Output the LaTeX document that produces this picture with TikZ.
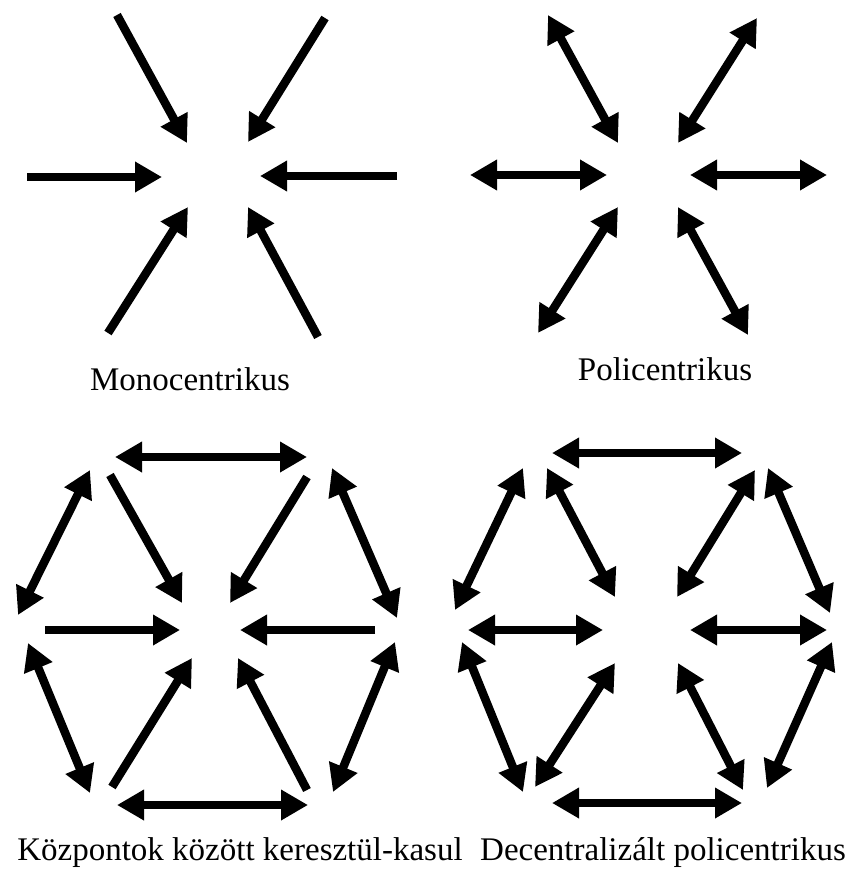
\documentclass[tikz,border=0pt]{standalone}
\usepackage{fontspec}
\setmainfont{Liberation Serif}
\usetikzlibrary{arrows.meta}
\tikzset{
  shaft/.style={line width=8.5pt, black},
  onehead/.style={shaft, -{Triangle[length=27pt,width=29pt]}},
  twohead/.style={shaft, {Triangle[length=27pt,width=29pt]}-{Triangle[length=27pt,width=29pt]}},
  caption/.style={anchor=base, inner sep=0pt, font=\fontsize{33}{40}\selectfont}
}
\begin{document}
\begin{tikzpicture}[x=1pt,y=-1pt]
\useasboundingbox[fill=white] (0,0) rectangle (857,869);
% Panel 1: Monocentrikus (single heads pointing inward)
\foreach \n/\ax/\ay/\bx/\by in {
  ma/117/15/187/143, mb/325/18/248/142, mc/27/177/162/177,
  md/397/176/260/176, me/108/333/188/207, mf/318/337/248/207}{
  \coordinate (\n-s) at (\ax,\ay);
  \coordinate (\n-t) at (\bx,\by);
  \draw[onehead] (\n-s) -- (\n-t);
}
% Panel 2: Policentrikus (double heads)
\foreach \n/\ax/\ay/\bx/\by in {
  pa/548/15/618/143, pb/757/18/678/143, pc/470/175/607/175,
  pd/690/175/827/175, pe/618/207/538/333, pf/678/207/748/335}{
  \coordinate (\n-s) at (\ax,\ay);
  \coordinate (\n-t) at (\bx,\by);
  \draw[twohead] (\n-s) -- (\n-t);
}
% Panel 3: Kozpontok kozott keresztul-kasul
\foreach \n/\ax/\ay/\bx/\by in {
  ka/115/457/307/457, kb/90/470/18/615, kc/332/468/397/618,
  kd/28/643/90/793, ke/395/642/333/792, kf/117/805/308/805}{
  \coordinate (\n-s) at (\ax,\ay);
  \coordinate (\n-t) at (\bx,\by);
  \draw[twohead] (\n-s) -- (\n-t);
}
\foreach \n/\ax/\ay/\bx/\by in {
  kg/110/475/182/603, kh/307/477/230/603, ki/45/630/180/630,
  kj/375/630/240/630, kk/112/787/192/658, kl/307/790/238/658}{
  \coordinate (\n-s) at (\ax,\ay);
  \coordinate (\n-t) at (\bx,\by);
  \draw[onehead] (\n-s) -- (\n-t);
}
% Panel 4: Decentralizalt policentrikus
\foreach \n/\ax/\ay/\bx/\by in {
  da/552/453/742/453, db/523/468/455/610, dc/547/468/615/597,
  dd/755/470/677/597, de/768/468/830/613, df/468/630/603/630,
  dg/690/630/827/630, dh/462/642/523/792, di/615/663/535/787,
  dj/678/663/743/790, dk/832/642/767/788, dl/552/803/742/803}{
  \coordinate (\n-s) at (\ax,\ay);
  \coordinate (\n-t) at (\bx,\by);
  \draw[twohead] (\n-s) -- (\n-t);
}
% Captions
\node[caption] (cap1) at (190,390) {Monocentrikus};
\node[caption] (cap2) at (665,380) {Policentrikus};
\node[caption] (cap3) at (240,860) {Központok között keresztül-kasul};
\node[caption] (cap4) at (663,860) {Decentralizált policentrikus};
\end{tikzpicture}
\end{document}
